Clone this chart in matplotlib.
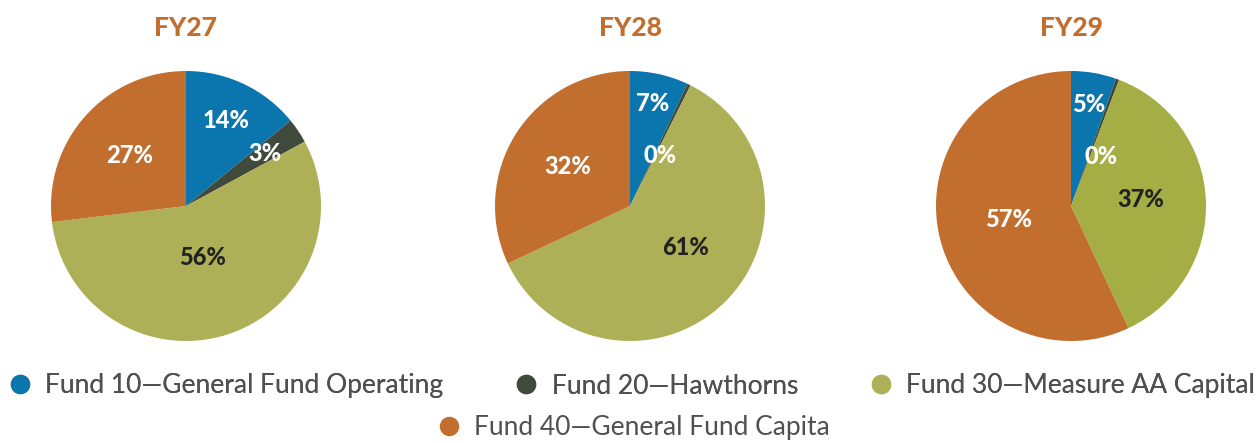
import matplotlib.pyplot as plt
import numpy as np
from matplotlib.lines import Line2D

# data
years = ["FY27", "FY28", "FY29"]
funds = [
    "Fund 10\u2014General Fund Operating",
    "Fund 20\u2014Hawthorns",
    "Fund 30\u2014Measure AA Capital",
    "Fund 40\u2014General Fund Capita",
]
fy27 = [14.1, 3.0, 56.0, 26.9]
fy28 = [7.0, 0.4, 60.6, 32.0]
fy29 = [5.4, 0.4, 37.2, 57.0]

# style
colors = ["#0b75ae", "#3f4a3c", "#adb056", "#c26e2f"]
green_fy29 = "#a5ad45"
label_colors = ["white", "white", "#222222", "white"]
label_dist = [
    [0.70, 0.70, 0.40, 0.56],
    [0.78, 0.44, 0.51, 0.55],
    [0.76, 0.43, 0.52, 0.47],
]
label_shift = [  # degrees, clockwise
    [0, 0, 0, 0],
    [0, 5, -9, 0],
    [0, 11, -3, 0],
]
centers_px = [186, 630, 1071]

plt.rcParams["font.family"] = ["Lato", "DejaVu Sans"]

W, H = 1257, 443
fig = plt.figure(figsize=(W / 100, H / 100), dpi=100)

cy, rad = 206, 135
for i, (yr, vals) in enumerate(zip(years, [fy27, fy28, fy29])):
    cx = centers_px[i]
    ax = fig.add_axes([(cx - rad) / W, (H - cy - rad) / H, 2 * rad / W, 2 * rad / H])
    cols = list(colors)
    if yr == "FY29":
        cols[2] = green_fy29
    wedges, _ = ax.pie(vals, colors=cols, startangle=90, counterclock=False,
                       wedgeprops=dict(linewidth=0))
    ax.set_xlim(-1, 1)
    ax.set_ylim(-1, 1)
    for j, w in enumerate(wedges):
        ang = np.deg2rad((w.theta1 + w.theta2) / 2 - label_shift[i][j])
        r = label_dist[i][j]
        ax.text(r * np.cos(ang), r * np.sin(ang), f"{round(vals[j])}%",
                ha="center", va="center", fontsize=17, fontweight="black",
                color=label_colors[j])
    fig.text(cx / W, 1 - 28 / H, yr, ha="center", va="center",
             fontsize=19, fontweight="black", color="#c26e2f")

handles = [Line2D([], [], marker="o", linestyle="", markersize=13,
                  markerfacecolor=c, markeredgecolor=c) for c in colors]
leg_kw = dict(loc="center", frameon=False, handletextpad=0.45, handlelength=1.0,
              prop=dict(size=19, weight="normal"), labelcolor="#505050")
leg1 = fig.legend(handles[:3], funds[:3], ncol=3, columnspacing=2.65,
                  bbox_to_anchor=(631 / W, 1 - 386 / H), **leg_kw)
fig.add_artist(leg1)
fig.legend(handles[3:], funds[3:], bbox_to_anchor=(633 / W, 1 - 428 / H), **leg_kw)

fig.savefig("out.png", dpi=100)
